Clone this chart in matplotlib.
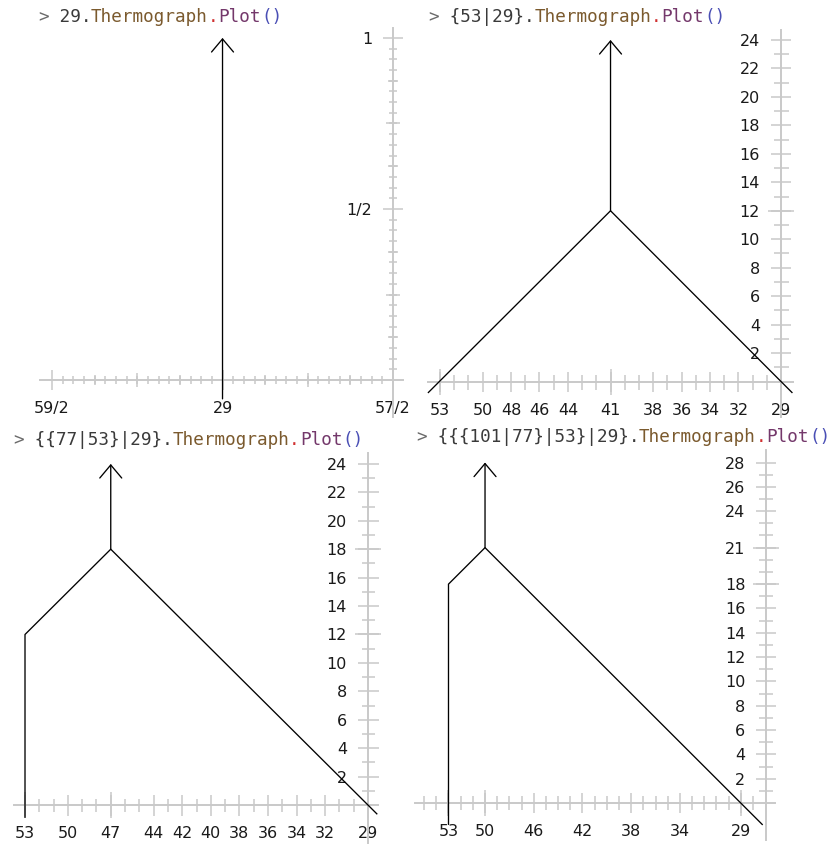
import numpy as np
import matplotlib.pyplot as plt
from matplotlib.ticker import FixedLocator

# ---- data ------------------------------------------------------------------
games = ["29", "{53|29}", "{{77|53}|29}", "{{{101|77}|53}|29}"]

# panel 1: 29
p1_xticks = [29.5, 29, 28.5]
p1_xlabels = ["59/2", "29", "57/2"]
p1_yticks = [0.5, 1]
p1_ylabels = ["1/2", "1"]
p1_line_x = []
p1_line_y = []
p1_mast = (29, -0.055, 1)

# panel 2: {53|29}
p2_xticks = [53, 50, 48, 46, 44, 41, 38, 36, 34, 32, 29]
p2_yticks = [2, 4, 6, 8, 10, 12, 14, 16, 18, 20, 22, 24]
p2_line_x = [53.85, 41, 28.2]
p2_line_y = [-0.8, 12, -0.8]
p2_mast = (41, 12, 24)

# panel 3: {{77|53}|29}
p3_xticks = [53, 50, 47, 44, 42, 40, 38, 36, 34, 32, 29]
p3_yticks = [2, 4, 6, 8, 10, 12, 14, 16, 18, 20, 22, 24]
p3_line_x = [53, 53, 47, 28.35]
p3_line_y = [-0.9, 12, 18, -0.65]
p3_mast = (47, 18, 24)

# panel 4: {{{101|77}|53}|29}
p4_xticks = [53, 50, 46, 42, 38, 34, 29]
p4_yticks = [2, 4, 6, 8, 10, 12, 14, 16, 18, 21, 24, 26, 28]
p4_line_x = [53, 53, 50, 27.2]
p4_line_y = [-1.8, 18, 21, -1.8]
p4_mast = (50, 21, 28)

# ---- style ------------------------------------------------------------------
W, H = 830, 846
PX = 0.72            # points per pixel at dpi=100
GRAY = "#c9c9c9"
LABEL_GAP = 21       # px between axis line and tick label box
TITLE_SIZE = 12.7
CHAR_PX = TITLE_SIZE * 0.6021 / PX   # advance of one DejaVu Sans Mono char

fig = plt.figure(figsize=(W / 100, H / 100), dpi=100)


def add_panel(rect, xlim, ylim, yaxis_x, xmaj, xlab, xmin, ymaj, ylab, ymin,
              minor_px, major_px, extra_x, extra_y, line_x, line_y, mast):
    l, r, t, b = rect
    ax = fig.add_axes([l / W, 1 - b / H, (r - l) / W, (b - t) / H])
    ax.set_xlim(xlim)
    ax.set_ylim(ylim)
    ax.patch.set_visible(False)
    ax.spines["top"].set_visible(False)
    ax.spines["right"].set_visible(False)
    ax.spines["left"].set_position(("data", yaxis_x))
    ax.spines["bottom"].set_position(("data", 0))
    for s in ["left", "bottom"]:
        ax.spines[s].set_color(GRAY)
        ax.spines[s].set_linewidth(1.4)

    ax.set_xticks(xmaj, xlab if xlab else [str(v) for v in xmaj])
    ax.set_yticks(ymaj, ylab if ylab else [str(v) for v in ymaj])
    ax.xaxis.set_minor_locator(FixedLocator(xmin))
    ax.yaxis.set_minor_locator(FixedLocator(ymin))
    ax.tick_params(which="major", direction="inout", length=major_px * PX,
                   width=1.1, color=GRAY, labelsize=11.5, labelcolor="#1a1a1a",
                   pad=(LABEL_GAP - major_px / 2) * PX)
    ax.tick_params(which="minor", direction="inout", length=minor_px * PX,
                   width=1.1, color=GRAY)

    # longer tick marks at special positions
    for pos, size in extra_x:
        ax.plot(pos, np.zeros(len(pos)), ls="none", marker="|", ms=size * PX,
                mew=1.1, color=GRAY, clip_on=False, zorder=2.6)
    for pos, size in extra_y:
        ax.plot(np.full(len(pos), yaxis_x), pos, ls="none", marker="_",
                ms=size * PX, mew=1.1, color=GRAY, clip_on=False, zorder=2.6)

    if line_x:
        ax.plot(line_x, line_y, color="black", lw=0.95, zorder=3,
                clip_on=False, solid_capstyle="butt")
    mx, mbase, mtop = mast
    ax.annotate("", xy=(mx, mtop), xytext=(mx, mbase), annotation_clip=False,
                arrowprops=dict(arrowstyle="->,head_length=0.94,head_width=0.79",
                                mutation_scale=10, lw=0.95, color="black",
                                shrinkA=0, shrinkB=0), zorder=3)
    return ax


# panel 1
add_panel((40, 403, 28, 417), (29.535, 28.471), (-0.108, 1.029), 28.5,
          p1_xticks, p1_xlabels, np.arange(28.5, 29.51, 1 / 32),
          p1_yticks, p1_ylabels, np.arange(1 / 32, 1.001, 1 / 32),
          8, 20,
          [([28.75, 29.25], 14), ([28.625, 28.875, 29.125, 29.375], 10)],
          [([0.25, 0.75], 14), ([0.125, 0.375, 0.625, 0.875], 10)],
          p1_line_x, p1_line_y, p1_mast)

# panel 2
add_panel((428, 793, 30, 417), (53.844, 28.16), (-2.49, 24.70), 29,
          p2_xticks, None, np.arange(29, 54),
          p2_yticks, None, np.arange(1, 25),
          15, 20,
          [([53, 41, 29], 26)], [([12], 26)],
          p2_line_x, p2_line_y, p2_mast)

# panel 3
add_panel((14, 378, 452.7, 843), (53.77, 28.30), (-2.67, 24.79), 29,
          p3_xticks, None, np.arange(29, 54),
          p3_yticks, None, np.arange(1, 25),
          13, 21,
          [([53, 47, 29], 27)], [([12, 18], 27)],
          p3_line_x, p3_line_y, p3_mast)

# panel 4
add_panel((415, 775, 450, 840), (55.75, 26.19), (-3.04, 29.03), 26.89,
          p4_xticks, None, np.arange(28, 56),
          p4_yticks, None, np.arange(1, 29),
          14, 20,
          [([53, 50, 29], 26)], [([18, 21], 26)],
          p4_line_x, p4_line_y, p4_mast)

# ---- code-style titles (monospace, coloured per token) ----------------------
title_pos = [(38, 22.5), (428, 22.5), (13, 445), (416, 442)]
for game, (tx, ty) in zip(games, title_pos):
    pieces = [(">", "#6b6b6b"), (" " + game + ".", "#3a3a3a"),
              ("Thermograph", "#7b5a2e"), (".", "#d03030"),
              ("Plot", "#74386b"), ("()", "#4a4fb5")]
    offset = 0
    for txt, col in pieces:
        fig.text((tx + offset * CHAR_PX) / W, 1 - ty / H, txt, color=col,
                 family="DejaVu Sans Mono", fontsize=TITLE_SIZE, ha="left",
                 va="baseline")
        offset += len(txt)

fig.savefig("out.png", dpi=100)
